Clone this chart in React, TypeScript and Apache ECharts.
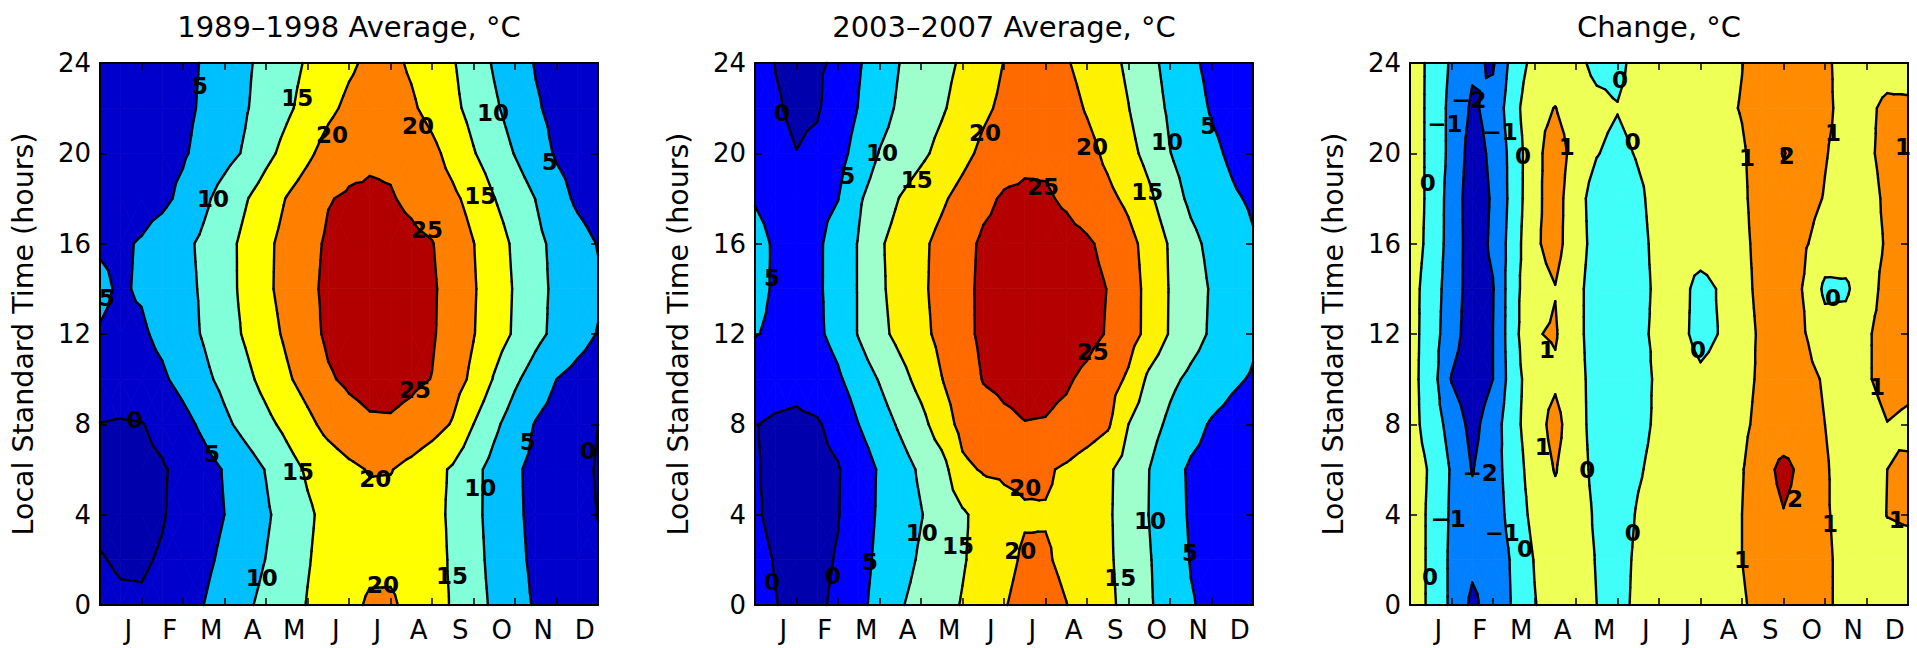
import { useEffect, useRef } from 'react';
import * as echarts from 'echarts';

const FONT = '"DejaVu Sans", sans-serif';

// Month initials and where they sit on the month axis (0 = start of January, 12 = end of December)
const MONTHS = ['J', 'F', 'M', 'A', 'M', 'J', 'J', 'A', 'S', 'O', 'N', 'D'];
const MONTH_LABEL_POS = [0.68, 1.68, 2.68, 3.68, 4.68, 5.68, 6.68, 7.68, 8.68, 9.68, 10.68, 11.68];
const MONTH_TICK_POS = [1, 2, 3, 4, 5, 6, 7, 8, 9, 10, 11];

// Grid nodes of the gridded fields: columns along the year, rows along the day (hours)
const MONTH_NODES = [0, 0.5, 1, 1.5, 2, 2.5, 3, 3.5, 4, 4.5, 5, 5.5, 6, 6.5, 7, 7.5, 8, 8.5, 9, 9.5, 10, 10.5, 11, 11.5, 12];
const HOUR_NODES = [0, 2, 4, 6, 8, 10, 12, 14, 16, 18, 20, 22, 24];

const AVG_LEVELS = [0, 5, 10, 15, 20, 25];
const CHANGE_LEVELS = [-2, -1, 0, 1, 2];

const COLORS_1989_1998 = ['#0000ac', '#0000cd', '#00bfff', '#80ffd8', '#ffff00', '#ff8000', '#b20000'];
const COLORS_2003_2007 = ['#0000ac', '#0000ff', '#00d2ff', '#9effcc', '#fff200', '#ff6a00', '#b40000'];
const COLORS_CHANGE = ['#0000b8', '#0080ff', '#40fff8', '#eeff55', '#ff8c00', '#b00000'];

// Mean temperature (deg C), rows = HOUR_NODES, columns = MONTH_NODES
const TEMP_1989_1998 = [
  [1.5, 0.8, 0.5, 1.3, 3.0, 5.0, 7.1, 9.2, 11.2, 13.2, 15.2, 17.0, 18.8, 20.6, 20.6, 18.9, 16.8, 14.6, 11.8, 9.2, 6.8, 4.5, 3.3, 2.3, 1.5],
  [0.3, -0.6, -0.5, 0.4, 2.2, 4.0, 5.9, 8.0, 10.1, 12.4, 14.7, 16.6, 18.0, 19.0, 19.1, 18.4, 17.0, 14.3, 11.5, 8.7, 6.1, 4.1, 2.8, 1.7, 0.6],
  [-1.2, -1.5, -1.2, -0.3, 1.4, 3.2, 5.0, 7.2, 9.4, 11.8, 14.3, 16.3, 17.6, 18.4, 18.5, 17.9, 16.6, 14.1, 11.2, 8.4, 5.7, 4.0, 2.7, 1.3, -0.1],
  [-1.0, -1.3, -1.0, -0.4, 1.1, 3.2, 5.3, 7.7, 10.2, 13.1, 15.6, 17.3, 19.0, 20.3, 20.2, 18.6, 16.6, 14.4, 11.3, 8.4, 5.6, 3.9, 2.5, 1.1, -0.3],
  [-0.1, -0.4, -0.2, 1.2, 3.5, 6.0, 9.0, 11.5, 13.8, 16.2, 18.8, 21.5, 23.3, 24.4, 24.5, 23.6, 22.0, 19.6, 15.0, 11.0, 7.6, 4.7, 3.1, 1.6, 0.0],
  [2.5, 2.8, 3.3, 4.3, 6.5, 8.9, 11.3, 13.8, 16.5, 19.3, 21.9, 24.5, 25.8, 26.5, 26.5, 25.9, 24.9, 22.1, 19.0, 14.6, 10.8, 7.8, 5.0, 3.6, 2.5],
  [4.8, 4.3, 4.4, 6.0, 8.2, 10.4, 13.0, 15.5, 18.2, 20.8, 23.4, 25.8, 26.9, 27.5, 27.5, 26.9, 25.5, 22.9, 20.2, 17.3, 14.4, 11.3, 8.8, 6.7, 4.8],
  [5.6, 4.6, 5.4, 7.1, 8.7, 10.6, 13.3, 16.1, 19.1, 21.6, 24.0, 25.9, 26.8, 27.3, 27.2, 26.6, 25.6, 23.2, 20.4, 17.5, 14.6, 11.7, 8.9, 7.2, 5.6],
  [4.7, 4.5, 5.3, 7.1, 8.9, 10.9, 13.4, 16.1, 19.0, 21.5, 23.7, 25.6, 26.2, 26.6, 26.5, 26.0, 25.2, 22.7, 20.1, 17.2, 14.2, 11.2, 8.8, 6.8, 4.8],
  [2.6, 3.0, 3.5, 4.0, 6.0, 9.0, 11.9, 14.6, 17.4, 20.2, 22.5, 24.8, 25.5, 25.6, 25.3, 24.2, 22.6, 20.9, 18.5, 15.1, 12.5, 9.9, 6.8, 4.2, 2.6],
  [2.3, 2.6, 3.0, 3.6, 4.5, 6.4, 8.4, 10.5, 13.7, 16.5, 19.1, 21.8, 23.6, 24.4, 24.3, 23.3, 21.2, 18.4, 15.3, 12.5, 9.8, 7.1, 4.5, 3.3, 2.3],
  [2.1, 2.4, 2.8, 3.3, 4.0, 5.6, 7.6, 9.6, 11.9, 14.2, 16.6, 19.0, 21.0, 22.1, 22.0, 20.7, 18.5, 16.1, 13.5, 10.7, 8.1, 5.5, 3.8, 2.9, 2.1],
  [2.0, 2.3, 2.7, 3.2, 3.8, 5.35, 7.3, 9.26, 11.31, 13.43, 15.49, 17.39, 19.28, 20.9, 21.1, 19.4, 17.4, 15.4, 12.5, 9.51, 7.09, 4.7, 3.4, 2.6, 2.0],
];

const TEMP_2003_2007 = [
  [1.2, 0.1, -0.9, -0.7, 0.8, 3.7, 6.7, 9.6, 11.6, 13.4, 15.3, 17.5, 19.7, 21.5, 21.7, 20.1, 18.1, 16.0, 13.5, 10.5, 7.9, 5.3, 4.0, 3.0, 2.2],
  [1.0, -0.2, -1.2, -1.0, 0.3, 3.3, 6.0, 8.3, 10.6, 12.6, 14.6, 16.7, 18.8, 20.6, 20.5, 19.0, 17.3, 15.7, 13.2, 10.3, 7.5, 4.8, 3.8, 2.9, 2.0],
  [0.4, -0.8, -1.4, -1.2, -0.2, 2.8, 5.6, 7.7, 9.8, 12.1, 14.3, 16.8, 18.6, 19.6, 19.7, 19.1, 17.6, 15.6, 12.9, 9.9, 7.0, 4.5, 3.6, 2.8, 2.0],
  [0.2, -0.6, -1.2, -1.0, -0.3, 2.4, 5.5, 8.1, 10.7, 13.1, 19.0, 20.4, 20.7, 20.8, 20.6, 19.3, 17.5, 15.7, 13.1, 10.0, 6.6, 4.4, 3.6, 2.8, 2.0],
  [0.1, -0.5, -0.8, -0.4, 1.4, 5.0, 7.8, 10.7, 13.5, 17.6, 21.5, 23.2, 24.3, 24.9, 24.8, 24.0, 22.6, 20.7, 15.0, 11.9, 9.0, 6.5, 4.6, 3.5, 2.5],
  [2.0, 1.5, 1.2, 2.2, 4.3, 7.4, 10.3, 13.4, 16.6, 19.9, 22.6, 25.2, 25.8, 26.1, 26.0, 25.5, 24.1, 22.0, 19.3, 13.9, 11.1, 9.0, 7.3, 5.7, 4.6],
  [5.2, 4.3, 3.5, 4.2, 6.5, 10.3, 13.7, 16.4, 18.8, 21.2, 23.7, 25.9, 26.9, 27.5, 27.6, 27.2, 26.3, 24.7, 21.9, 18.7, 14.6, 11.9, 9.4, 7.6, 5.7],
  [6.2, 4.5, 3.8, 4.3, 6.9, 10.3, 14.2, 16.9, 19.2, 21.5, 23.8, 25.9, 26.9, 27.4, 27.5, 27.2, 26.3, 24.9, 22.0, 18.7, 14.7, 12.1, 9.6, 7.8, 6.0],
  [6.0, 4.6, 3.8, 4.3, 6.8, 10.3, 14.4, 16.9, 19.1, 21.3, 23.6, 25.7, 26.4, 26.8, 26.8, 26.4, 25.6, 23.9, 21.4, 18.3, 14.5, 11.2, 8.9, 7.1, 5.4],
  [4.8, 4.0, 3.6, 4.0, 4.9, 9.4, 12.5, 15.2, 17.3, 19.3, 21.6, 24.0, 25.5, 25.8, 25.5, 24.4, 22.7, 21.1, 19.0, 15.9, 12.0, 9.1, 7.3, 5.6, 4.4],
  [2.2, 0.9, 0.05, 0.9, 3.3, 6.8, 10.2, 12.1, 14.1, 16.3, 18.6, 21.1, 22.9, 24.0, 24.2, 23.2, 21.5, 19.0, 16.4, 13.5, 10.1, 8.0, 6.0, 4.2, 2.5],
  [1.8, 0.3, -0.6, -0.4, 2.2, 5.2, 8.2, 10.8, 12.7, 14.5, 16.7, 19.1, 21.0, 22.3, 22.7, 21.8, 19.6, 17.4, 15.1, 12.1, 9.3, 7.0, 4.6, 3.2, 1.8],
  [1.5, -0.1, -0.7, -0.5, 0.6, 4.6, 7.3, 10.1, 11.9, 13.7, 15.6, 17.8, 20.1, 21.4, 21.6, 20.4, 18.4, 16.5, 14.2, 11.3, 8.5, 5.9, 3.8, 2.5, 1.5],
];

// Change between the two periods (deg C)
const TEMP_CHANGE = [
  [0.45, -0.15, -1.2, -2.2, -1.6, -0.9, -0.05, 0.5, 0.5, 0.0, -0.35, 0.25, 0.4, 0.5, 0.5, 0.6, 0.9, 1.3, 1.5, 1.45, 1.15, 0.75, 0.6, 0.6, 0.5],
  [0.45, -0.15, -1.2, -1.8, -1.6, -0.85, 0.05, 0.6, 0.45, -0.05, -0.4, 0.2, 0.4, 0.5, 0.5, 0.6, 1.0, 1.4, 1.6, 1.5, 1.15, 0.75, 0.6, 0.7, 0.7],
  [0.45, -0.15, -1.15, -1.7, -1.5, -0.6, 0.3, 0.7, 0.5, -0.15, -0.5, 0.1, 0.4, 0.5, 0.5, 0.6, 1.0, 1.5, 1.95, 1.6, 1.1, 0.7, 0.6, 1.02, 1.1],
  [0.45, -0.1, -1.1, -2.05, -1.4, -0.5, 0.5, 1.05, 0.45, -0.3, -0.6, -0.1, 0.3, 0.4, 0.5, 0.6, 0.95, 1.6, 2.3, 1.7, 1.1, 0.6, 0.6, 1.0, 1.1],
  [0.35, -0.4, -1.4, -2.3, -1.5, -0.3, 0.6, 1.3, 0.4, -0.4, -0.7, -0.3, 0.2, 0.4, 0.5, 0.6, 0.8, 1.3, 1.3, 1.4, 1.0, 0.6, 0.6, 0.98, 0.85],
  [0.35, -0.5, -2.05, -2.6, -2.0, -0.4, 0.6, 0.85, 0.35, -0.4, -0.8, -0.4, 0.2, 0.4, 0.15, 0.3, 0.7, 1.2, 1.45, 1.3, 0.9, 0.6, 0.9, 1.3, 1.2],
  [0.4, -0.5, -1.6, -2.5, -2.0, -0.3, 0.95, 1.08, 0.3, -0.5, -0.7, -0.2, 0.2, 0.2, -0.25, 0.05, 0.6, 1.2, 1.45, 1.05, 0.4, 0.4, 0.9, 1.3, 1.2],
  [0.35, -0.4, -1.55, -2.4, -2.05, -0.3, 0.7, 0.97, 0.3, -0.5, -0.6, -0.3, 0.2, 0.3, -0.3, 0.1, 0.7, 1.3, 1.4, 0.95, -0.2, -0.15, 0.6, 1.3, 1.2],
  [0.45, -0.25, -1.45, -2.45, -1.85, -0.47, 0.87, 1.3, 0.47, -0.4, -0.6, -0.3, 0.3, 0.4, 0.45, 0.5, 0.8, 1.3, 1.5, 1.1, 0.6, 0.5, 0.6, 1.1, 1.2],
  [0.45, -0.2, -1.45, -2.5, -1.9, -0.6, 0.8, 1.35, 0.45, -0.5, -0.7, -0.2, 0.4, 0.5, 0.5, 0.6, 0.85, 1.4, 1.6, 1.3, 0.95, 0.6, 0.6, 1.2, 1.05],
  [0.45, -0.2, -1.3, -2.4, -1.8, -0.6, 0.75, 1.4, 0.7, 0.05, -0.3, 0.1, 0.4, 0.5, 0.5, 0.6, 0.9, 1.4, 2.05, 1.5, 1.05, 0.7, 0.8, 1.3, 1.1],
  [0.45, -0.2, -1.3, -2.15, -1.7, -0.35, 0.8, 1.02, 0.6, 0.3, 0.05, 0.4, 0.5, 0.6, 0.6, 0.8, 1.05, 1.5, 1.6, 1.5, 1.2, 0.7, 0.8, 1.2, 1.2],
  [0.45, -0.19, -1.15, -1.85, -2.1, -0.57, 0.32, 0.5, 0.3, -0.3, -0.3, 0.4, 0.5, 0.6, 0.6, 0.7, 0.98, 1.4, 1.6, 1.5, 1.2, 0.6, 0.5, 0.6, 0.5],
];

// Inline contour labels: [month position, hour, contour level]
const LABELS_1989_1998 = [
  [2.41, 23.0, 5], [4.75, 22.45, 15], [5.59, 20.8, 20], [2.72, 18.0, 10], [0.17, 13.6, 5],
  [9.47, 21.8, 10], [7.66, 21.2, 20], [10.84, 19.6, 5], [9.16, 18.1, 15], [7.88, 16.6, 25],
  [0.84, 8.2, 0], [2.7, 6.7, 5], [4.77, 5.9, 15], [3.9, 1.2, 10], [7.59, 9.5, 25],
  [6.63, 5.6, 20], [10.31, 7.2, 5], [11.76, 6.8, 0], [9.16, 5.2, 10], [8.48, 1.3, 15], [6.82, 0.9, 20],
];
const LABELS_2003_2007 = [
  [0.65, 21.8, 0], [3.06, 20.0, 10], [2.22, 19.0, 5], [3.9, 18.8, 15], [0.41, 14.5, 5],
  [5.54, 20.9, 20], [8.12, 20.3, 20], [9.93, 20.5, 10], [10.92, 21.2, 5], [6.94, 18.5, 25],
  [9.45, 18.3, 15], [4.02, 3.2, 10], [0.41, 1.0, 0], [1.88, 1.3, 0], [2.77, 1.9, 5],
  [4.89, 2.6, 15], [8.14, 11.2, 25], [6.51, 5.2, 20], [6.39, 2.4, 20], [9.52, 3.7, 10],
  [10.48, 2.3, 5], [8.8, 1.2, 15],
];
const LABELS_CHANGE = [
  [0.84, 21.3, -1], [1.42, 22.35, -2], [2.17, 20.95, -1], [2.72, 19.9, 0], [0.43, 18.7, 0],
  [3.78, 20.3, 1], [5.06, 23.25, 0], [5.37, 20.5, 0], [9.08, 19.9, 2], [10.19, 20.9, 1],
  [8.12, 19.8, 1], [11.88, 20.3, 1], [10.19, 13.6, 0], [3.3, 11.3, 1], [3.2, 7.0, 1],
  [4.27, 6.0, 0], [1.69, 5.85, -2], [0.92, 3.8, -1], [2.22, 3.2, -1], [2.77, 2.5, 0],
  [0.48, 1.25, 0], [6.94, 11.3, 0], [5.37, 3.2, 0], [11.25, 9.65, 1], [9.28, 4.7, 2],
  [10.12, 3.6, 1], [8.0, 2.0, 1], [11.73, 3.76, 1],
];

const PANELS = [
  { title: '1989\u20131998 Average, \u00b0C', values: TEMP_1989_1998, levels: AVG_LEVELS, colors: COLORS_1989_1998, labels: LABELS_1989_1998 },
  { title: '2003\u20132007 Average, \u00b0C', values: TEMP_2003_2007, levels: AVG_LEVELS, colors: COLORS_2003_2007, labels: LABELS_2003_2007 },
  { title: 'Change, \u00b0C', values: TEMP_CHANGE, levels: CHANGE_LEVELS, colors: COLORS_CHANGE, labels: LABELS_CHANGE },
];

const GRID_LEFT = [100, 755, 1410];
const GRID_TOP = 63;
const GRID_W = 498;
const GRID_H = 542;

type Pt = [number, number, number];

// Keep the part of a polygon lying on one side of value t (linear in each edge)
function clipAt(poly: Pt[], t: number, keepAbove: boolean): Pt[] {
  const out: Pt[] = [];
  const n = poly.length;
  for (let i = 0; i < n; i++) {
    const a = poly[i];
    const b = poly[(i + 1) % n];
    const ina = keepAbove ? a[2] >= t : a[2] <= t;
    const inb = keepAbove ? b[2] >= t : b[2] <= t;
    if (ina) out.push(a);
    if (ina !== inb) {
      const f = (t - a[2]) / (b[2] - a[2]);
      out.push([a[0] + f * (b[0] - a[0]), a[1] + f * (b[1] - a[1]), t]);
    }
  }
  return out;
}

function bandIndex(v: number, levels: number[]) {
  let k = 0;
  while (k < levels.length && v >= levels[k]) k++;
  return k;
}

function cellGeometry(values: number[][], c: number, r: number) {
  const x0 = MONTH_NODES[c], x1 = MONTH_NODES[c + 1];
  const h0 = HOUR_NODES[r], h1 = HOUR_NODES[r + 1];
  const corners: Pt[] = [
    [x0, h0, values[r][c]],
    [x1, h0, values[r][c + 1]],
    [x1, h1, values[r + 1][c + 1]],
    [x0, h1, values[r + 1][c]],
  ];
  const mean = (corners[0][2] + corners[1][2] + corners[2][2] + corners[3][2]) / 4;
  const center: Pt = [(x0 + x1) / 2, (h0 + h1) / 2, mean];
  const tris: Pt[][] = [0, 1, 2, 3].map((k) => [corners[k], corners[(k + 1) % 4], center]);
  return { corners, tris };
}

function makeCells() {
  const cells: number[][] = [];
  for (let r = 0; r < HOUR_NODES.length - 1; r++) {
    for (let c = 0; c < MONTH_NODES.length - 1; c++) {
      cells.push([(MONTH_NODES[c] + MONTH_NODES[c + 1]) / 2, (HOUR_NODES[r] + HOUR_NODES[r + 1]) / 2, c, r]);
    }
  }
  return cells;
}

function fillRenderer(values: number[][], levels: number[], colors: string[]) {
  return (_params: any, api: any) => {
    const c = api.value(2) as number;
    const r = api.value(3) as number;
    const { corners, tris } = cellGeometry(values, c, r);
    const toPx = (p: Pt) => api.coord([p[0], p[1]]);
    const bands = corners.map((p) => bandIndex(p[2], levels));
    const bmin = Math.min(...bands);
    const bmax = Math.max(...bands);
    const children: any[] = [];
    const poly = (pts: number[][], color: string) => ({
      type: 'polygon',
      shape: { points: pts },
      style: { fill: color, stroke: color, lineWidth: 0.8 },
      silent: true,
    });
    if (bmin === bmax) {
      children.push(poly(corners.map(toPx), colors[bmin]));
    } else {
      for (const tri of tris) {
        for (let b = bmin; b <= bmax; b++) {
          let p: Pt[] = tri;
          if (b > 0) p = clipAt(p, levels[b - 1], true);
          if (p.length >= 3 && b < levels.length) p = clipAt(p, levels[b], false);
          if (p.length >= 3) children.push(poly(p.map(toPx), colors[b]));
        }
      }
    }
    return { type: 'group', children };
  };
}

function lineRenderer(values: number[][], levels: number[]) {
  return (_params: any, api: any) => {
    const c = api.value(2) as number;
    const r = api.value(3) as number;
    const { corners, tris } = cellGeometry(values, c, r);
    const vs = corners.map((p) => p[2]);
    const lo = Math.min(...vs);
    const hi = Math.max(...vs);
    const children: any[] = [];
    for (const L of levels) {
      if (L < lo || L > hi) continue;
      for (const tri of tris) {
        const pts: number[][] = [];
        for (let e = 0; e < 3; e++) {
          const a = tri[e];
          const b = tri[(e + 1) % 3];
          if ((a[2] >= L) !== (b[2] >= L)) {
            const f = (L - a[2]) / (b[2] - a[2]);
            pts.push([a[0] + f * (b[0] - a[0]), a[1] + f * (b[1] - a[1])]);
          }
        }
        if (pts.length === 2) {
          const p = api.coord(pts[0]);
          const q = api.coord(pts[1]);
          children.push({
            type: 'line',
            shape: { x1: p[0], y1: p[1], x2: q[0], y2: q[1] },
            style: { stroke: '#000', lineWidth: 2.4, lineCap: 'round' },
            silent: true,
          });
        }
      }
    }
    return { type: 'group', children };
  };
}

function labelRenderer() {
  return (_params: any, api: any) => {
    const p = api.coord([api.value(0), api.value(1)]);
    const level = api.value(2) as number;
    const text = level < 0 ? '\u2212' + Math.abs(level) : String(level);
    return {
      type: 'text',
      x: p[0],
      y: p[1],
      silent: true,
      style: {
        text,
        fill: '#000',
        fontSize: 23,
        fontWeight: 'bold',
        fontFamily: FONT,
        align: 'center',
        verticalAlign: 'middle',
      },
    };
  };
}

function buildOption() {
  const axisLine = { show: true, onZero: false, lineStyle: { color: '#000', width: 2 } };
  const tickStyle = { color: '#000', width: 1.5 };
  const grid = PANELS.map((_, i) => ({ left: GRID_LEFT[i], top: GRID_TOP, width: GRID_W, height: GRID_H }));
  const xAxis: any[] = [];
  const yAxis: any[] = [];
  PANELS.forEach((_, i) => {
    xAxis.push({
      gridIndex: i, type: 'value', min: 0, max: 12, position: 'bottom', z: 10,
      axisLine,
      axisTick: { show: true, inside: true, length: 7, customValues: MONTH_TICK_POS, lineStyle: tickStyle },
      axisLabel: {
        customValues: MONTH_LABEL_POS,
        formatter: (v: number) => MONTHS[Math.round(v - 0.68)] ?? '',
        fontSize: 26, fontFamily: FONT, color: '#000', margin: 12,
      },
      splitLine: { show: false },
    });
    xAxis.push({
      gridIndex: i, type: 'value', min: 0, max: 12, position: 'top', z: 10,
      axisLine,
      axisTick: { show: true, inside: true, length: 7, customValues: MONTH_TICK_POS, lineStyle: tickStyle },
      axisLabel: { show: false },
      splitLine: { show: false },
    });
    yAxis.push({
      gridIndex: i, type: 'value', min: 0, max: 24, interval: 4, position: 'left', z: 10,
      axisLine,
      axisTick: { show: true, inside: true, length: 7, lineStyle: tickStyle },
      axisLabel: { fontSize: 26, fontFamily: FONT, color: '#000', margin: 9 },
      splitLine: { show: false },
    });
    yAxis.push({
      gridIndex: i, type: 'value', min: 0, max: 24, interval: 4, position: 'right', z: 10,
      axisLine,
      axisTick: { show: true, inside: true, length: 7, lineStyle: tickStyle },
      axisLabel: { show: false },
      splitLine: { show: false },
    });
  });

  const cells = makeCells();
  const series: any[] = [];
  PANELS.forEach((panel, i) => {
    series.push({
      type: 'custom', xAxisIndex: 2 * i, yAxisIndex: 2 * i, z: 2,
      dimensions: ['x', 'h', 'c', 'r'], encode: { x: 0, y: 1 },
      data: cells, renderItem: fillRenderer(panel.values, panel.levels, panel.colors),
    });
    series.push({
      type: 'custom', xAxisIndex: 2 * i, yAxisIndex: 2 * i, z: 3,
      dimensions: ['x', 'h', 'c', 'r'], encode: { x: 0, y: 1 },
      data: cells, renderItem: lineRenderer(panel.values, panel.levels),
    });
    series.push({
      type: 'custom', xAxisIndex: 2 * i, yAxisIndex: 2 * i, z: 4,
      dimensions: ['x', 'h', 'level'], encode: { x: 0, y: 1 },
      data: panel.labels, renderItem: labelRenderer(),
    });
  });

  const graphic: any[] = [];
  PANELS.forEach((panel, i) => {
    graphic.push({
      type: 'text', x: GRID_LEFT[i] + GRID_W / 2, y: 27, silent: true,
      style: { text: panel.title, fontSize: 29, fontFamily: FONT, fill: '#000', align: 'center', verticalAlign: 'middle' },
    });
    graphic.push({
      type: 'text', x: GRID_LEFT[i] - 77, y: GRID_TOP + GRID_H / 2, rotation: Math.PI / 2, silent: true,
      style: { text: 'Local Standard Time (hours)', fontSize: 28.5, fontFamily: FONT, fill: '#000', align: 'center', verticalAlign: 'middle' },
    });
  });

  return { animation: false, backgroundColor: '#fff', grid, xAxis, yAxis, series, graphic };
}

export default function App() {
  const ref = useRef<HTMLDivElement>(null);
  useEffect(() => {
    if (!ref.current) return;
    const chart = echarts.init(ref.current, undefined, { renderer: 'svg' });
    chart.setOption(buildOption() as any);
    return () => chart.dispose();
  }, []);
  return (
    <div
      ref={ref}
      style={{ position: 'absolute', left: 0, top: 0, width: 1917, height: 648, background: '#fff' }}
    />
  );
}
